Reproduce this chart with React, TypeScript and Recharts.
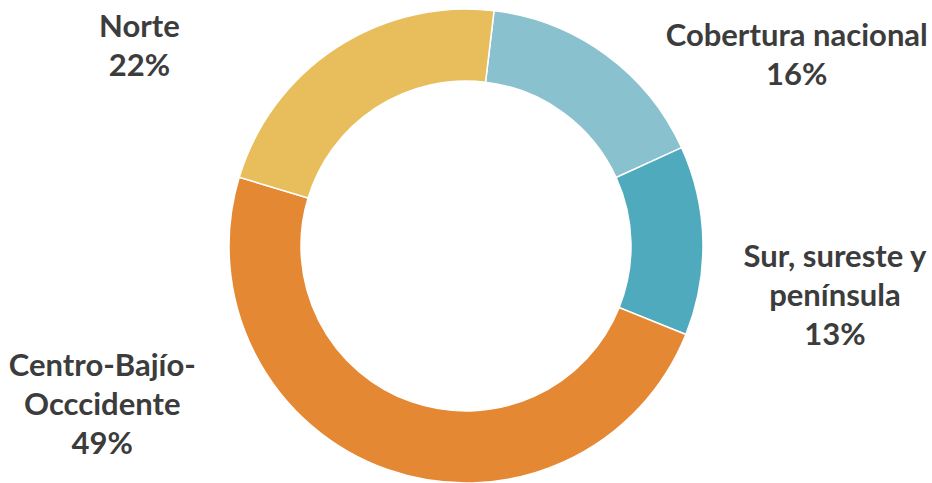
import React from "react";
import { PieChart, Pie, Cell } from "recharts";

const categories = ["Cobertura nacional", "Sur, sureste y península", "Centro-Bajío-Occcidente", "Norte"];
const labelLines = [["Cobertura nacional"], ["Sur, sureste y", "península"], ["Centro-Bajío-", "Occcidente"], ["Norte"]];
const shares = [16.3, 12.9, 48.6, 22.2];
const colors = ["#8AC1CE", "#4FAABD", "#E58833", "#E8BE5C"];
const labelShift = [[191, -9], [132, 26], [-285, -94], [-197, -11]];

const data = categories.map((name, i) => ({ name, value: shares[i] }));

const RAD = Math.PI / 180;
const LINE_H = 39;

const renderLabel = (props: any) => {
  const { cx, cy, midAngle, outerRadius, index, percent } = props;
  const px = cx + outerRadius * Math.cos(-midAngle * RAD);
  const py = cy + outerRadius * Math.sin(-midAngle * RAD);
  const [sx, sy] = labelShift[index];
  const x = px + sx;
  const y = py + sy;
  const lines = [...labelLines[index], `${Math.round(percent * 100)}%`];
  return (
    <text
      x={x}
      y={y}
      textAnchor="middle"
      fill="#3c3c3c"
      fontFamily="Lato, 'Open Sans', sans-serif"
      fontWeight={700}
      fontSize={31}
    >
      {lines.map((l, i) => (
        <tspan key={i} x={x} dy={i === 0 ? 0 : LINE_H}>
          {l}
        </tspan>
      ))}
    </text>
  );
};

export default function App() {
  return (
    <div style={{ position: "absolute", left: 0, top: 0, width: 932, height: 483, background: "#fff" }}>
      <PieChart width={932} height={483} margin={{ top: 0, right: 0, bottom: 0, left: 0 }}>
        <Pie
          data={data}
          dataKey="value"
          nameKey="name"
          cx={466}
          cy={246}
          innerRadius={165}
          outerRadius={237}
          startAngle={83.2}
          endAngle={-276.8}
          stroke="#ffffff"
          strokeWidth={1.5}
          label={renderLabel}
          labelLine={false}
          isAnimationActive={false}
        >
          {data.map((d, i) => (
            <Cell key={d.name} fill={colors[i]} />
          ))}
        </Pie>
      </PieChart>
    </div>
  );
}
